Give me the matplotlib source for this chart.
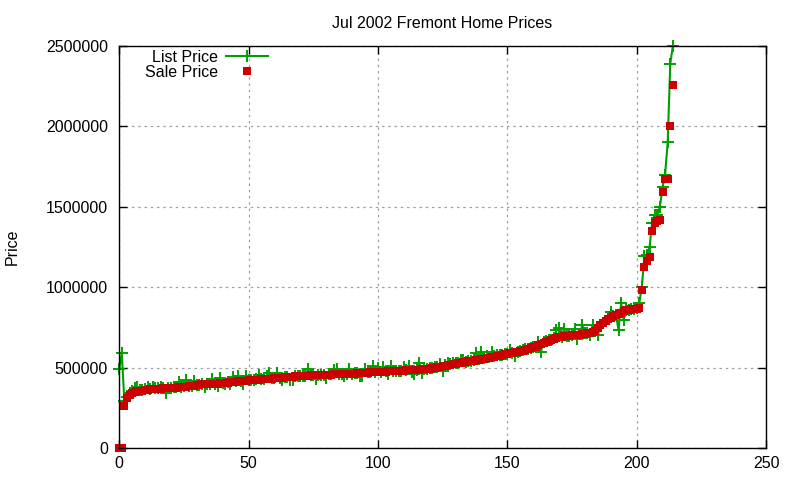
import matplotlib
matplotlib.use("Agg")
import matplotlib.pyplot as plt
from matplotlib.ticker import FuncFormatter

plt.rcParams['font.family'] = ['Liberation Sans', 'DejaVu Sans']

title = "Jul 2002 Fremont Home Prices"
ylabel = "Price"
series_names = ["List Price", "Sale Price"]
x_ticks = [0, 50, 100, 150, 200, 250]
y_ticks = [0, 500000, 1000000, 1500000, 2000000, 2500000]

list_price = [
    490000, 590000, 290000, 320000, 340000, 355000, 370000, 378000, 360000, 362000,
    365000, 380000, 366000, 380000, 370000, 372000, 380000, 371000, 345000, 375000,
    376000, 377000, 378000, 412000, 380000, 383000, 420000, 386000, 388000, 415000,
    392000, 394000, 396000, 380000, 398000, 399000, 430000, 401000, 385000, 435000,
    405000, 395000, 408000, 395000, 440000, 414000, 450000, 416000, 400000, 450000,
    422000, 423000, 425000, 426000, 455000, 428000, 430000, 445000, 464000, 433000,
    435000, 465000, 437000, 420000, 440000, 441000, 425000, 425000, 446000, 447000,
    448000, 449000, 450000, 489000, 452000, 453000, 430000, 454000, 455000, 456000,
    435000, 457000, 457000, 485000, 490000, 459000, 460000, 445000, 461000, 490000,
    463000, 464000, 465000, 450000, 450000, 492000, 470000, 471000, 512000, 473000,
    497000, 475000, 505000, 476000, 460000, 510000, 479000, 480000, 480000, 481000,
    505000, 483000, 507000, 470000, 460000, 487000, 530000, 465000, 491000, 493000,
    495000, 498000, 501000, 504000, 520000, 480000, 513000, 530000, 520000, 530000,
    526000, 529000, 545000, 545000, 537000, 539000, 542000, 545000, 590000, 551000,
    600000, 557000, 575000, 563000, 595000, 569000, 580000, 576000, 579000, 583000,
    586000, 610000, 592000, 570000, 599000, 603000, 607000, 615000, 616000, 621000,
    626000, 631000, 661000, 600000, 656000, 663000, 669000, 674000, 681000, 735000,
    744000, 693000, 738000, 697000, 699000, 701000, 740000, 680000, 706000, 765000,
    712000, 715000, 700000, 765000, 729000, 700000, 763000, 776000, 791000, 801000,
    848000, 821000, 828000, 734000, 900000, 796000, 857000, 861000, 864000, 865000,
    870000, 900000, 1000000, 1196000, 1200000, 1250000, 1400000, 1450000, 1450000, 1500000,
    1620000, 1700000, 1900000, 2390000, 2500000,
]

sale_price = [
    0, 0, 258000, 311000, 330000, 342000, 348000, 352000, 354000, 357000,
    360000, 362000, 364000, 366000, 367000, 368000, 369000, 370000, 372000, 373000,
    374000, 375000, 376000, 377000, 378000, 380000, 382000, 384000, 386000, 388000,
    390000, 393000, 395000, 396000, 397000, 398000, 399000, 400000, 401000, 402000,
    404000, 405000, 407000, 408000, 410000, 412000, 414000, 415000, 417000, 419000,
    420000, 422000, 423000, 424000, 425000, 426000, 428000, 429000, 430000, 432000,
    433000, 434000, 436000, 438000, 439000, 440000, 442000, 443000, 445000, 446000,
    447000, 448000, 449000, 450000, 451000, 452000, 453000, 453000, 454000, 455000,
    455000, 456000, 456000, 457000, 458000, 458000, 459000, 460000, 460000, 461000,
    462000, 463000, 464000, 465000, 466000, 468000, 469000, 470000, 471000, 472000,
    473000, 474000, 474000, 475000, 476000, 477000, 478000, 479000, 479000, 480000,
    481000, 482000, 483000, 484000, 485000, 486000, 488000, 489000, 490000, 492000,
    494000, 497000, 500000, 503000, 506000, 509000, 512000, 516000, 519000, 522000,
    525000, 528000, 531000, 534000, 536000, 538000, 541000, 544000, 547000, 550000,
    553000, 556000, 559000, 562000, 565000, 568000, 571000, 575000, 578000, 582000,
    585000, 588000, 591000, 595000, 598000, 602000, 606000, 610000, 615000, 620000,
    625000, 630000, 638000, 646000, 655000, 662000, 668000, 673000, 680000, 686000,
    690000, 692000, 694000, 696000, 698000, 700000, 702000, 703000, 705000, 708000,
    711000, 714000, 717000, 721000, 728000, 745000, 762000, 775000, 790000, 800000,
    810000, 820000, 827000, 835000, 842000, 850000, 856000, 860000, 863000, 864000,
    866000, 870000, 985000, 1125000, 1160000, 1190000, 1350000, 1400000, 1410000, 1420000,
    1590000, 1670000, 1675000, 2000000, 2255000,
]

x = list(range(len(sale_price)))

fig = plt.figure(figsize=(8, 4.8), dpi=100)
ax = fig.add_axes([0.149, 0.0667, 0.8085, 0.8375])

green = '#00a000'
red = '#cc0000'
fs = 11.5

ax.plot(x, list_price, color=green, lw=1.5, marker='+', ms=8.5, mew=1.4,
        label=series_names[0], zorder=3, clip_on=False)
ax.plot(x, sale_price, color=red, lw=0, marker='s', ms=5.8, mew=0,
        label=series_names[1], zorder=4, clip_on=False)

ax.set_xlim(0, 250)
ax.set_ylim(0, 2500000)
ax.set_xticks(x_ticks)
ax.set_yticks(y_ticks)
ax.yaxis.set_major_formatter(FuncFormatter(lambda v, p: "%d" % v))
ax.grid(True, color='#a0a0a0', linestyle=(0, (2, 3)), linewidth=0.9)
ax.set_axisbelow(True)

ax.tick_params(axis='both', direction='in', length=6, width=1, top=True, right=True,
               labelsize=fs, colors='black')
ax.tick_params(axis='x', pad=6)
ax.tick_params(axis='y', pad=8)
for s in ax.spines.values():
    s.set_linewidth(1.0)
    s.set_color('black')
    s.set_zorder(5)

ax.set_title(title, fontsize=fs, pad=13)
fig.text(12 / 800, 1 - 247 / 480, ylabel, fontsize=fs, rotation=90,
         ha='center', va='center')

leg = ax.legend(loc='upper right', bbox_to_anchor=(268 / 800, 1 - 50 / 480),
                bbox_transform=fig.transFigure, frameon=False,
                markerfirst=False, fontsize=fs, handlelength=2.6,
                handletextpad=0.5, labelspacing=0.0, borderaxespad=0.0,
                borderpad=0.0)
leg._legend_box.align = "right"

fig.savefig("out.png", dpi=100)
